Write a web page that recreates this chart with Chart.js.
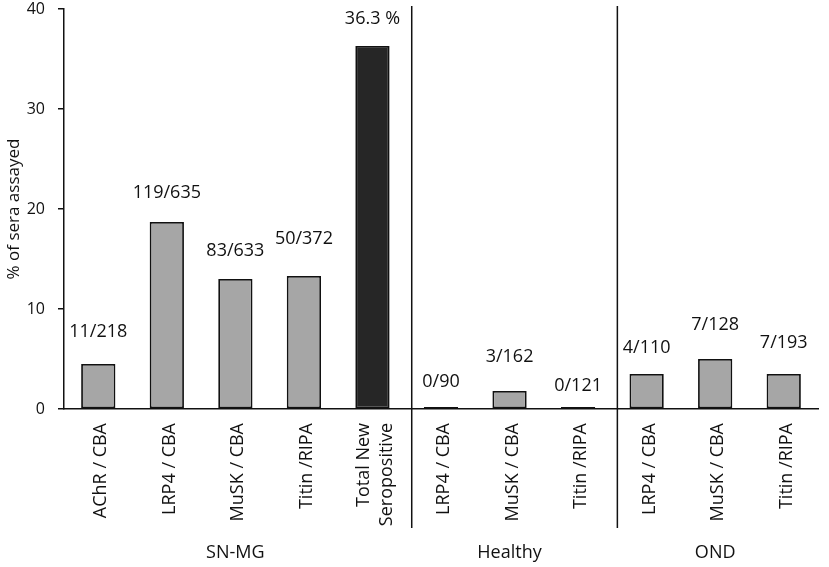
<!DOCTYPE html>
<html><head><meta charset="utf-8">
<script src="https://cdn.jsdelivr.net/npm/chart.js@4"></script>
<style>html,body{margin:0;padding:0;background:#fff}#wrap{width:829px;height:567px;position:relative}</style>
</head><body><div id="wrap"><canvas id="c"></canvas></div>
<script>
const categories = ['AChR / CBA','LRP4 / CBA','MuSK / CBA','Titin /RIPA',['Total New','Seropositive'],
                    'LRP4 / CBA','MuSK / CBA','Titin /RIPA','LRP4 / CBA','MuSK / CBA','Titin /RIPA'];
const values = [4.5, 18.7, 13.0, 13.3, 36.3, 0, 1.8, 0, 3.5, 5.0, 3.5];
const valueLabels = ['11/218','119/635','83/633','50/372','36.3 %','0/90','3/162','0/121','4/110','7/128','7/193'];
const groupNames = ['SN-MG','Healthy','OND'];
const groupSizes = [5, 3, 3];
const yTicks = [0, 10, 20, 30, 40];

// styling
const labelLift = [32, 29, 28, 37, 27, 27, 34, 23, 26, 34, 31];
const barFill = values.map((v, i) => i === 4 ? '#262626' : '#a6a6a6');
const FONT = "'Open Sans', 'DejaVu Sans', sans-serif";
const TXT = '#111';

const overlay = {
  id: 'overlay',
  beforeDraw(chart) {
    const xs = chart.scales.x;
    const items = xs.getLabelItems(chart.chartArea);
    items.forEach(it => {
      if (Array.isArray(it.label) && !it._shifted) { it.textOffset -= 12; it._shifted = true; }
    });
  },
  afterDraw(chart) {
    const ctx = chart.ctx, xs = chart.scales.x, ys = chart.scales.y;
    const meta = chart.getDatasetMeta(0);
    ctx.save();
    ctx.fillStyle = TXT;
    ctx.font = '18px ' + FONT;
    ctx.textAlign = 'center';
    ctx.textBaseline = 'middle';
    meta.data.forEach((bar, i) => {
      const top = ys.getPixelForValue(values[i]);
      ctx.fillText(valueLabels[i], bar.x, top - labelLift[i]);
    });
    let start = 0;
    ctx.strokeStyle = '#111';
    ctx.lineWidth = 1.5;
    groupSizes.forEach((n, g) => {
      const end = start + n - 1;
      const cx = (xs.getPixelForValue(start) + xs.getPixelForValue(end)) / 2;
      ctx.fillText(groupNames[g], cx, 553);
      if (g < groupSizes.length - 1) {
        const sx = (xs.getPixelForValue(end) + xs.getPixelForValue(end + 1)) / 2 + 5;
        ctx.beginPath();
        ctx.moveTo(sx, 6);
        ctx.lineTo(sx, 528);
        ctx.stroke();
      }
      start += n;
    });
    ctx.restore();
  }
};

new Chart(document.getElementById('c'), {
  type: 'bar',
  data: {
    labels: categories,
    datasets: [{
      data: values,
      backgroundColor: barFill,
      borderColor: '#111',
      borderWidth: 1.8,
      borderSkipped: false,
      barPercentage: 0.5,
      categoryPercentage: 1.0,
      minBarLength: 2
    }]
  },
  options: {
    responsive: true,
    maintainAspectRatio: false,
    animation: false,
    layout: { padding: { top: 9, right: 11, left: 0, bottom: 0 } },
    plugins: { legend: { display: false }, tooltip: { enabled: false } },
    scales: {
      x: {
        offset: true,
        grid: { display: false, drawTicks: false },
        border: { display: true, color: '#111', width: 1.5 },
        ticks: { maxRotation: 90, minRotation: 90, autoSkip: false, padding: 14, labelOffset: 3,
                 color: TXT, font: { family: FONT, size: 18, lineHeight: 1.3 } },
        afterFit(s) { s.height = 158; }
      },
      y: {
        min: 0, max: 40,
        afterBuildTicks(s) { s.ticks = yTicks.map(v => ({ value: v })); },
        grid: { drawOnChartArea: false, drawTicks: true, tickLength: 6, color: '#111', lineWidth: 1.5 },
        border: { display: true, color: '#111', width: 1.5 },
        ticks: { padding: 13, color: TXT, font: { family: FONT, size: 16 } },
        title: { display: true, text: '% of sera assayed', color: TXT,
                 font: { family: FONT, size: 17 }, padding: { top: 4, bottom: 0 } },
        afterFit(s) { s.width = 64; s.paddingTop = 0; s.paddingBottom = 0; }
      }
    }
  },
  plugins: [overlay]
});
</script>
</body></html>
